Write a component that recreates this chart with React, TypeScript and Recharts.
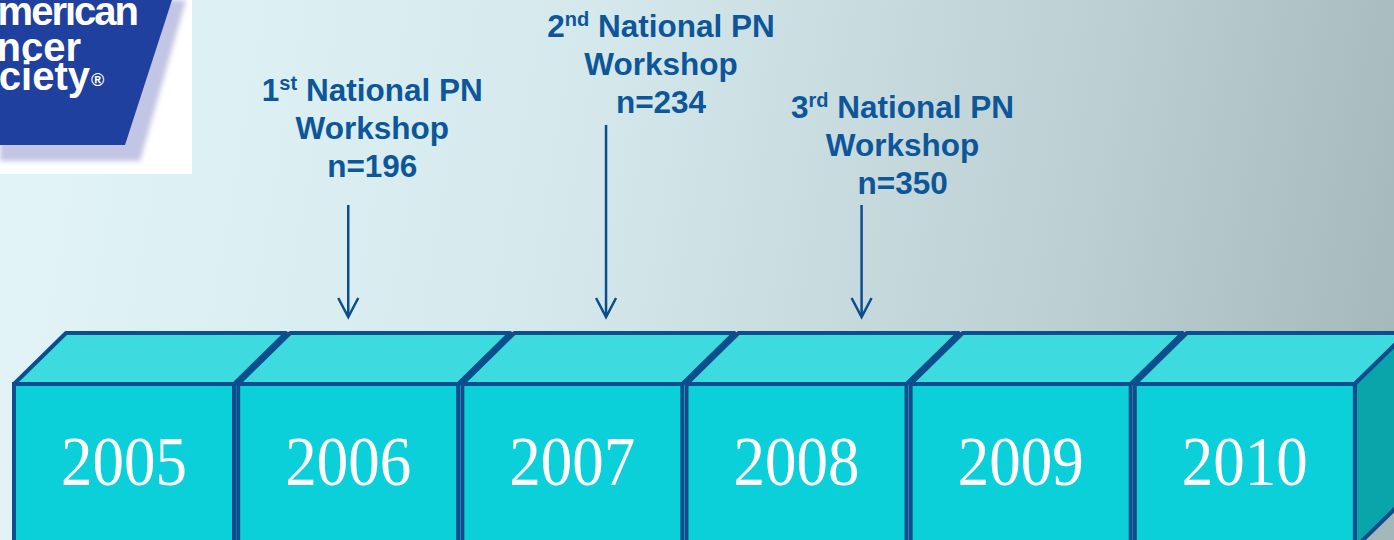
import React from "react";
import { ComposedChart, Bar, Scatter, XAxis, YAxis } from "recharts";

const years = [2005, 2006, 2007, 2008, 2009, 2010];
const workshopOrdinals = ["1", "2", "3"];
const workshopSuffixes = ["st", "nd", "rd"];
const workshopDates = [2006.5, 2007.65, 2008.79];
const workshopSizes = [196, 234, 350];

// where each workshop label sits, in px relative to the front top edge of the boxes
const labelLayout = [
  { dx: 24, lastLine: -207, arrowTop: -179 },
  { dx: 55, lastLine: -271, arrowTop: -259 },
  { dx: 41, lastLine: -190, arrowTop: -179 },
];

const timeline = years.map((year) => ({ year, box: 1 }));
const workshops = workshopDates.map((date, i) => ({
  date,
  level: 1,
  i,
  ordinal: workshopOrdinals[i],
  suffix: workshopSuffixes[i],
  n: workshopSizes[i],
}));

const EDGE = "#0b4e8e";
const FRONT = "#0bd0d9";
const TOP = "#3ddbe0";
const SIDE = "#0aa5aa";
const DX = 52;
const DY = 51;
const TEXT_BLUE = "#0d5699";

function YearBox(props: any) {
  const { x, y, width, height, index, payload } = props;
  const l = x + 2;
  const r = x + width - 2;
  const b = y + height + 8;
  const last = index === years.length - 1;
  return (
    <g>
      <polygon
        points={`${l},${y} ${l + DX},${y - DY} ${r + DX},${y - DY} ${r},${y}`}
        fill={TOP}
        stroke={EDGE}
        strokeWidth={4}
        strokeLinejoin="round"
      />
      {last && (
        <polygon
          points={`${r},${y} ${r + DX},${y - DY} ${r + DX},${b - DY} ${r},${b}`}
          fill={SIDE}
          stroke={EDGE}
          strokeWidth={4}
          strokeLinejoin="round"
        />
      )}
      <rect x={l} y={y} width={r - l} height={b - y} fill={FRONT} stroke={EDGE} strokeWidth={4} />
      <g transform={`translate(${x + width / 2}, ${y + 101}) scale(1, 1.12)`}>
        <text
          x={0}
          y={0}
          textAnchor="middle"
          fill="#ffffff"
          fontSize={63}
          fontFamily="'Liberation Serif', 'Times New Roman', serif"
        >
          {payload.year}
        </text>
      </g>
    </g>
  );
}

function WorkshopMark(props: any) {
  const { cx, cy, payload } = props;
  const lay = labelLayout[payload.i];
  const tip = cy - 67;
  const top = cy + lay.arrowTop;
  const tx = cx + lay.dx;
  const base = cy + lay.lastLine;
  const font = "'Liberation Sans', Arial, sans-serif";
  return (
    <g>
      <line x1={cx} y1={top} x2={cx} y2={tip} stroke={EDGE} strokeWidth={2.5} />
      <polyline
        points={`${cx - 10},${tip - 19} ${cx},${tip} ${cx + 10},${tip - 19}`}
        fill="none"
        stroke={EDGE}
        strokeWidth={2.5}
      />
      <text textAnchor="middle" fill={TEXT_BLUE} fontFamily={font} fontWeight="bold" fontSize={31.5}>
        <tspan x={tx} y={base - 76}>
          {payload.ordinal}
          <tspan fontSize={20} dy={-11}>
            {payload.suffix}
          </tspan>
          <tspan dy={11}> National PN</tspan>
        </tspan>
        <tspan x={tx} y={base - 38}>
          Workshop
        </tspan>
        <tspan x={tx} y={base}>
          n={payload.n}
        </tspan>
      </text>
    </g>
  );
}

function Logo() {
  const font = "'Liberation Sans', Arial, sans-serif";
  return (
    <svg width={192} height={174} style={{ position: "absolute", left: 0, top: 0 }}>
      <defs>
        <filter id="logoBlur" x="-10%" y="-10%" width="120%" height="120%">
          <feGaussianBlur stdDeviation="2.5" />
        </filter>
      </defs>
      <rect x={0} y={0} width={192} height={174} fill="#ffffff" />
      <polygon points="0,0 186,0 140,161 0,161" fill="#c2c5e3" filter="url(#logoBlur)" />
      <polygon points="0,0 172,0 125,145 0,145" fill="#1f409f" />
      <g fill="#ffffff" fontFamily={font} fontWeight="bold" fontSize={40}>
        <text x={137} y={25} textAnchor="end" letterSpacing={-2}>
          American
        </text>
        <text x={81} y={61} textAnchor="end">
          Cancer
        </text>
        <text x={90} y={90} textAnchor="end">
          Society
        </text>
        <text x={91} y={86} fontSize={18}>
          ®
        </text>
      </g>
    </svg>
  );
}

export default function App() {
  return (
    <div
      style={{
        position: "absolute",
        left: 0,
        top: 0,
        width: 1394,
        height: 540,
        overflow: "hidden",
        background:
          "linear-gradient(100deg, #e2f4f7 0%, #d5e9ec 40%, #bccfd2 75%, #a3b7bb 100%)",
      }}
    >
      <Logo />
      <div style={{ position: "absolute", left: 0, top: 0 }}>
        <ComposedChart
          width={1394}
          height={540}
          data={timeline}
          margin={{ top: 384, right: 37, bottom: 0, left: 12 }}
          barCategoryGap={0}
          barGap={0}
        >
          <XAxis xAxisId="cat" dataKey="year" type="category" hide />
          <XAxis xAxisId="time" dataKey="date" type="number" domain={[2005, 2011]} hide />
          <YAxis domain={[0, 1]} hide />
          <Bar
            xAxisId="cat"
            dataKey="box"
            shape={<YearBox />}
            isAnimationActive={false}
          />
          <Scatter
            xAxisId="time"
            data={workshops}
            dataKey="level"
            shape={<WorkshopMark />}
            isAnimationActive={false}
          />
        </ComposedChart>
      </div>
    </div>
  );
}
